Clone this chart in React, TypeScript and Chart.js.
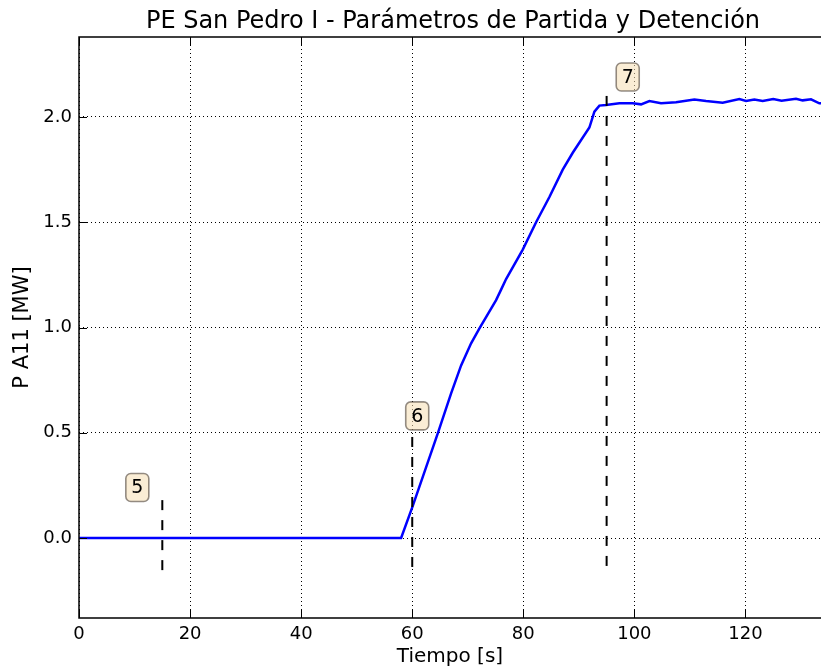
import React, { useEffect, useRef } from 'react';
import { Chart, registerables } from 'chart.js';

Chart.register(...registerables);

// ---- data ----
const timeS = [
  0, 58.0, 60.05, 64.6, 67.0, 68.8, 70.6, 72.1, 75.1, 76.0, 76.9, 79.9, 82.3, 84.7, 87.1, 88.9,
  91.9, 92.8, 93.7, 94.9, 97.3, 99.7, 101.2, 102.7, 104.8, 107.5, 110.8, 112.9, 115.9, 118.9,
  120.1, 121.6, 123.1, 125.0, 126.5, 129.1, 130.3, 131.8, 133.3, 134.0,
];
const powerMW = [
  0, 0, 0.149, 0.497, 0.687, 0.82, 0.925, 0.996, 1.13, 1.18, 1.23, 1.37, 1.5, 1.62, 1.75, 1.83,
  1.95, 2.025, 2.054, 2.057, 2.065, 2.065, 2.06, 2.076, 2.065, 2.07, 2.083, 2.076, 2.068, 2.085,
  2.076, 2.083, 2.076, 2.085, 2.077, 2.087, 2.079, 2.084, 2.065, 2.065,
];

const eventIds = ['5', '6', '7'];
const eventTimes = [15, 60, 95];
const eventTop = [0.18, 0.48, 2.1];
const eventBottom = [-0.16, -0.16, -0.16];
const labelTimes = [10.5, 60.9, 98.8];
const labelValues = [0.24, 0.58, 2.19];

const xTicks = [0, 20, 40, 60, 80, 100, 120];
const yTicks = [0, 0.5, 1.0, 1.5, 2.0];
const xRange = [0, 133.6];
const yRange = [-0.38, 2.38];

const TITLE = 'PE San Pedro I - Parámetros de Partida y Detención';
const X_LABEL = 'Tiempo [s]';
const Y_LABEL = 'P A11 [MW]';

const FONT = "'DejaVu Sans', sans-serif";

const decorPlugin = {
  id: 'decor',
  afterDraw(chart: any) {
    const { ctx, chartArea: a, scales } = chart;
    const xs = scales.x;
    const ys = scales.y;
    ctx.save();
    // frame
    ctx.strokeStyle = '#000';
    ctx.lineWidth = 1.5;
    ctx.beginPath();
    ctx.moveTo(a.right + 2, a.top);
    ctx.lineTo(a.left, a.top);
    ctx.lineTo(a.left, a.bottom);
    ctx.lineTo(a.right + 2, a.bottom);
    ctx.stroke();
    // inward tick marks
    ctx.lineWidth = 1;
    ctx.beginPath();
    xs.ticks.forEach((t: any) => {
      const px = Math.round(xs.getPixelForValue(t.value)) + 0.5;
      ctx.moveTo(px, a.bottom);
      ctx.lineTo(px, a.bottom - 8);
      ctx.moveTo(px, a.top);
      ctx.lineTo(px, a.top + 8);
    });
    ys.ticks.forEach((t: any) => {
      const py = Math.round(ys.getPixelForValue(t.value)) + 0.5;
      ctx.moveTo(a.left, py);
      ctx.lineTo(a.left + 8, py);
    });
    ctx.stroke();
    // event labels
    ctx.font = `19px ${FONT}`;
    ctx.textAlign = 'center';
    ctx.textBaseline = 'middle';
    eventIds.forEach((id, i) => {
      const cx = xs.getPixelForValue(labelTimes[i]);
      const cy = ys.getPixelForValue(labelValues[i]);
      const w = 23;
      const h = 28;
      ctx.beginPath();
      ctx.roundRect(cx - w / 2, cy - h / 2, w, h, 5);
      ctx.fillStyle = 'rgba(245,222,179,0.55)';
      ctx.fill();
      ctx.strokeStyle = 'rgba(60,50,40,0.55)';
      ctx.lineWidth = 1.6;
      ctx.stroke();
      ctx.fillStyle = '#000';
      ctx.fillText(id, cx, cy + 1);
    });
    // title
    ctx.font = `24px ${FONT}`;
    ctx.textBaseline = 'alphabetic';
    ctx.fillStyle = '#000';
    ctx.fillText(TITLE, 453, 28);
    ctx.restore();
  },
};

export default function App() {
  const ref = useRef<HTMLCanvasElement>(null);
  useEffect(() => {
    if (!ref.current) return;
    const eventSets = eventIds.map((id, i) => ({
      label: 'evento ' + id,
      data: [
        { x: eventTimes[i], y: eventTop[i] },
        { x: eventTimes[i], y: eventBottom[i] },
      ],
      borderColor: '#000',
      borderWidth: 2,
      borderDash: [10, 10],
      pointRadius: 0,
      fill: false,
    }));
    const chart = new Chart(ref.current, {
      type: 'line',
      data: {
        datasets: [
          ...eventSets,
          {
            label: 'P A11',
            data: timeS.map((t, i) => ({ x: t, y: powerMW[i] })),
            borderColor: '#0000ff',
            borderWidth: 2.5,
            pointRadius: 0,
            tension: 0,
            fill: false,
          },
        ],
      },
      options: {
        animation: false,
        responsive: false,
        maintainAspectRatio: false,
        layout: { padding: { top: 37, left: 0, right: 0, bottom: 0 } },
        plugins: {
          legend: { display: false },
          tooltip: { enabled: false },
          title: { display: false },
        },
        scales: {
          x: {
            type: 'linear',
            min: xRange[0],
            max: xRange[1],
            afterBuildTicks: (s: any) => {
              s.ticks = xTicks.map((v) => ({ value: v }));
            },
            afterFit: (s: any) => {
              s.height = 52;
              s.paddingLeft = 0;
              s.paddingRight = 0;
            },
            grid: { color: '#000', lineWidth: 1, drawTicks: false },
            border: { display: false, dash: [1, 3] },
            ticks: {
              color: '#000',
              font: { family: FONT, size: 18 },
              padding: 6,
              maxRotation: 0,
              callback: (v: any) => String(v),
            },
            title: {
              display: true,
              text: X_LABEL,
              color: '#000',
              font: { family: FONT, size: 20 },
              padding: { top: 0, bottom: 1 },
            },
          },
          y: {
            type: 'linear',
            min: yRange[0],
            max: yRange[1],
            afterBuildTicks: (s: any) => {
              s.ticks = yTicks.map((v) => ({ value: v }));
            },
            afterFit: (s: any) => {
              s.width = 79;
              s.paddingTop = 0;
              s.paddingBottom = 0;
            },
            grid: { color: '#000', lineWidth: 1, drawTicks: false },
            border: { display: false, dash: [1, 3] },
            ticks: {
              color: '#000',
              font: { family: FONT, size: 18 },
              padding: 7,
              callback: (v: any) => Number(v).toFixed(1),
            },
            title: {
              display: true,
              text: Y_LABEL,
              color: '#000',
              font: { family: FONT, size: 21 },
              padding: { top: 10, bottom: 0 },
            },
          },
        },
      },
      plugins: [decorPlugin],
    });
    return () => chart.destroy();
  }, []);
  return (
    <div style={{ position: 'absolute', left: 0, top: 0, width: 821, height: 670, overflow: 'hidden', background: '#fff' }}>
      <canvas ref={ref} width={821} height={670} style={{ display: 'block' }} />
    </div>
  );
}
